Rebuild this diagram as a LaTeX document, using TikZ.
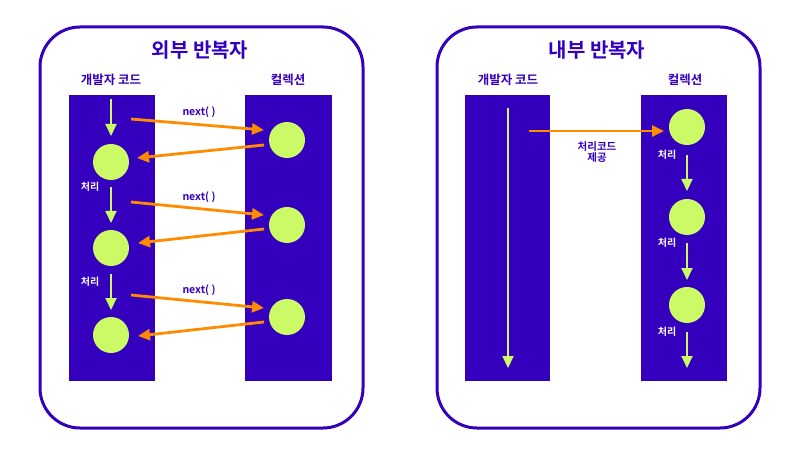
\documentclass[tikz,border=0pt]{standalone}
\usepackage{fontspec}
\setmainfont{Noto Sans CJK KR}[BoldFont={* Bold}]
\usetikzlibrary{arrows.meta}
\definecolor{purp}{HTML}{3500BD}
\definecolor{lime}{HTML}{CCFA66}
\definecolor{orng}{HTML}{FF8C00}
\tikzset{
  x=1pt,y=-1pt,
  frame/.style={draw=purp,line width=3pt,rounded corners=40pt},
  col/.style={fill=purp,draw=none},
  ball/.style={circle,fill=lime,draw=none,minimum size=36pt,inner sep=0pt},
  title/.style={text=purp,font=\bfseries\fontsize{20}{22}\selectfont},
  head/.style={text=purp,font=\bfseries\fontsize{12.5}{14}\selectfont},
  small/.style={text=purp,font=\bfseries\fontsize{10.5}{11}\selectfont,align=center,inner sep=0pt},
  proc/.style={text=white,font=\bfseries\fontsize{10}{11}\selectfont,inner sep=0pt},
  garrow/.style={draw=lime,line width=2pt,-{Triangle[length=12pt,width=11pt]}},
  oarrow/.style={draw=orng,line width=2.8pt,-{Triangle[length=12pt,width=11pt]}},
}
\begin{document}
\begin{tikzpicture}
\useasboundingbox (0,0) rectangle (795,449);
% ---------- left panel ----------
\draw[frame] (40,27) rectangle (363,428);
\node[title] (t1) at (200,50) {외부 반복자};
\node[head] (h1) at (111,80) {개발자 코드};
\node[head] (h2) at (288,80) {컬렉션};
\fill[col] (69,95) rectangle (155,381);
\fill[col] (245,95) rectangle (332,381);
\node[ball] (a1) at (111,162) {};
\node[ball] (a2) at (111,248) {};
\node[ball] (a3) at (111,335) {};
\node[ball] (b1) at (287,140) {};
\node[ball] (b2) at (287,225) {};
\node[ball] (b3) at (287,317) {};
% green flow
\coordinate (g0s) at (111,99);  \coordinate (g0e) at (111,136);
\coordinate (g1s) at (111,187); \coordinate (g1e) at (111,223);
\coordinate (g2s) at (111,274); \coordinate (g2e) at (111,310);
\draw[garrow] (g0s) -- (g0e);
\draw[garrow] (g1s) -- (g1e);
\draw[garrow] (g2s) -- (g2e);
\node[proc] (p1) at (90,187) {처리};
\node[proc] (p2) at (90,282) {처리};
% orange calls
\coordinate (f1s) at (131,119); \coordinate (f1e) at (264,130);
\coordinate (r1s) at (264,145); \coordinate (r1e) at (137,158);
\coordinate (f2s) at (131,202); \coordinate (f2e) at (264,215);
\coordinate (r2s) at (264,229); \coordinate (r2e) at (138,243);
\coordinate (f3s) at (131,295); \coordinate (f3e) at (264,308);
\coordinate (r3s) at (264,322); \coordinate (r3e) at (138,336);
\draw[oarrow] (f1s) -- (f1e);
\draw[oarrow] (r1s) -- (r1e);
\draw[oarrow] (f2s) -- (f2e);
\draw[oarrow] (r2s) -- (r2e);
\draw[oarrow] (f3s) -- (f3e);
\draw[oarrow] (r3s) -- (r3e);
\node[small] (n1) at (199,112) {next( )};
\node[small] (n2) at (199,197) {next( )};
\node[small] (n3) at (199,290) {next( )};
% ---------- right panel ----------
\draw[frame] (437,27) rectangle (760,428);
\node[title] (t2) at (597,50) {내부 반복자};
\node[head] (h3) at (508,80) {개발자 코드};
\node[head] (h4) at (685,80) {컬렉션};
\fill[col] (465,95) rectangle (550,381);
\fill[col] (641,95) rectangle (727,381);
\coordinate (d0) at (508,108);
\coordinate (d1) at (508,368);
\draw[garrow] (d0) -- (d1);
\node[ball] (c1) at (687,127) {};
\node[ball] (c2) at (687,217) {};
\node[ball] (c3) at (687,305) {};
\coordinate (k0s) at (687,155); \coordinate (k0e) at (687,191);
\coordinate (k1s) at (687,243); \coordinate (k1e) at (687,280);
\coordinate (k2s) at (687,332); \coordinate (k2e) at (687,368);
\draw[garrow] (k0s) -- (k0e);
\draw[garrow] (k1s) -- (k1e);
\draw[garrow] (k2s) -- (k2e);
\node[proc] (q1) at (667,155) {처리};
\node[proc] (q2) at (667,243) {처리};
\node[proc] (q3) at (667,332) {처리};
\coordinate (e0) at (529,131);
\coordinate (e1) at (664,131);
\draw[oarrow] (e0) -- (e1);
\node[small] (k1) at (597,152) {처리코드\\제공};
\end{tikzpicture}
\end{document}
